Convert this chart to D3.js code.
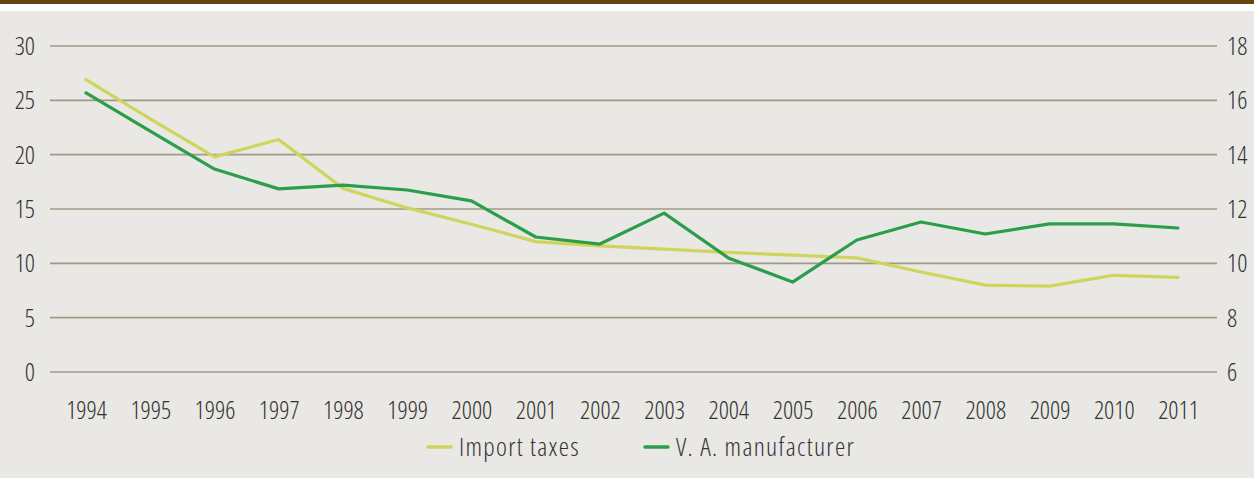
<!DOCTYPE html>
<html>
<head>
<meta charset="utf-8">
<script src="https://cdn.jsdelivr.net/npm/d3@7"></script>
<style>
  body { margin: 0; background: #fff; }
  text { font-family: "Open Sans", sans-serif; font-stretch: 75%; font-weight: 300; fill: #333; }
  .legend text { letter-spacing: 1.3px; }
</style>
</head>
<body>
<div id="chart-area"></div>
<script>
let years = ["1994", "1995", "1996", "1997", "1998", "1999", "2000", "2001", "2002",
    "2003", "2004", "2005", "2006", "2007", "2008", "2009", "2010", "2011"];
let importTaxes = [26.9, 23.3, 19.8, 21.4, 16.9, 15.1, 13.6, 12.0, 11.6,
    11.3, 11.0, 10.75, 10.5, 9.2, 8.0, 7.9, 8.9, 8.7];
let vaManufacturer = [16.27, 14.87, 13.47, 12.74, 12.88, 12.7, 12.3, 10.97, 10.71,
    11.85, 10.2, 9.31, 10.86, 11.52, 11.08, 11.45, 11.45, 11.3];
let leftTicks = [0, 5, 10, 15, 20, 25, 30];
let rightTicks = [6, 8, 10, 12, 14, 16, 18];
let seriesNames = ["Import taxes", "V. A. manufacturer"];
let colors = ["#cfd55c", "#2a9e48"];

let W = 1254, H = 478;
let margin = {left: 50, right: 37, top: 46, bottom: 106};
let width = W - margin.left - margin.right,
    height = H - margin.top - margin.bottom;

let root = d3.select("#chart-area")
    .append("svg")
    .attr("width", W)
    .attr("height", H);

// Frame
root.append("rect").attr("x", 0).attr("y", 0).attr("width", W).attr("height", H).attr("fill", "#fff");
root.append("rect").attr("x", 0).attr("y", 11).attr("width", W).attr("height", H - 11).attr("fill", "#e9e8e4");
root.append("rect").attr("x", 0).attr("y", 0).attr("width", W).attr("height", 4).attr("fill", "#6b4313");

let svg = root.append("g")
    .attr("transform", "translate(" + margin.left + ", " + margin.top + ")");

// Scales
let x = d3.scalePoint()
    .domain(years)
    .range([36, width - 39]);

let yLeft = d3.scaleLinear().domain([0, 30]).range([height, 0]);
let yRight = d3.scaleLinear().domain([6, 18]).range([height, 0]);

// Gridlines
svg.append("g")
    .selectAll("line")
    .data(leftTicks)
    .enter()
    .append("line")
    .attr("x1", 0)
    .attr("x2", width)
    .attr("y1", d => yLeft(d))
    .attr("y2", d => yLeft(d))
    .attr("stroke", "#9d9b86")
    .attr("stroke-width", 1.6);

// Left axis
let yAxisLeft = d3.axisLeft(yLeft).tickValues(leftTicks).tickSize(0).tickPadding(15);
let gl = svg.append("g").call(yAxisLeft);
gl.select(".domain").remove();
gl.selectAll("text").attr("font-size", "25px").attr("dy", "0.34em");

// Right axis
let yAxisRight = d3.axisRight(yRight).tickValues(rightTicks).tickSize(0).tickPadding(10);
let gr = svg.append("g").attr("transform", "translate(" + width + ",0)").call(yAxisRight);
gr.select(".domain").remove();
gr.selectAll("text").attr("font-size", "25px").attr("dy", "0.34em");

// X axis
let xAxis = d3.axisBottom(x).tickSize(0).tickPadding(29);
let gx = svg.append("g").attr("transform", "translate(0," + height + ")").call(xAxis);
gx.select(".domain").remove();
gx.selectAll("text").attr("font-size", "25px");

// Lines
let lineLeft = d3.line().x((d, i) => x(years[i])).y(d => yLeft(d));
let lineRight = d3.line().x((d, i) => x(years[i])).y(d => yRight(d));

svg.append("path")
    .datum(importTaxes)
    .attr("d", lineLeft)
    .attr("fill", "none")
    .attr("stroke", colors[0])
    .attr("stroke-width", 3.2)
    .attr("stroke-linejoin", "round")
    .attr("stroke-linecap", "round");

svg.append("path")
    .datum(vaManufacturer)
    .attr("d", lineRight)
    .attr("fill", "none")
    .attr("stroke", colors[1])
    .attr("stroke-width", 3.2)
    .attr("stroke-linejoin", "round")
    .attr("stroke-linecap", "round");

// Legend
let legendX = [428, 645];
let legend = root.append("g").attr("class", "legend").attr("transform", "translate(0,447)");
seriesNames.forEach(function (name, i) {
    legend.append("line")
        .attr("x1", legendX[i])
        .attr("x2", legendX[i] + 23)
        .attr("y1", 0)
        .attr("y2", 0)
        .attr("stroke", colors[i])
        .attr("stroke-width", 3.5)
        .attr("stroke-linecap", "round");
    legend.append("text")
        .attr("x", legendX[i] + 31)
        .attr("y", 0)
        .attr("dy", "0.35em")
        .attr("font-size", "26px")
        .text(name);
});
</script>
</body>
</html>
